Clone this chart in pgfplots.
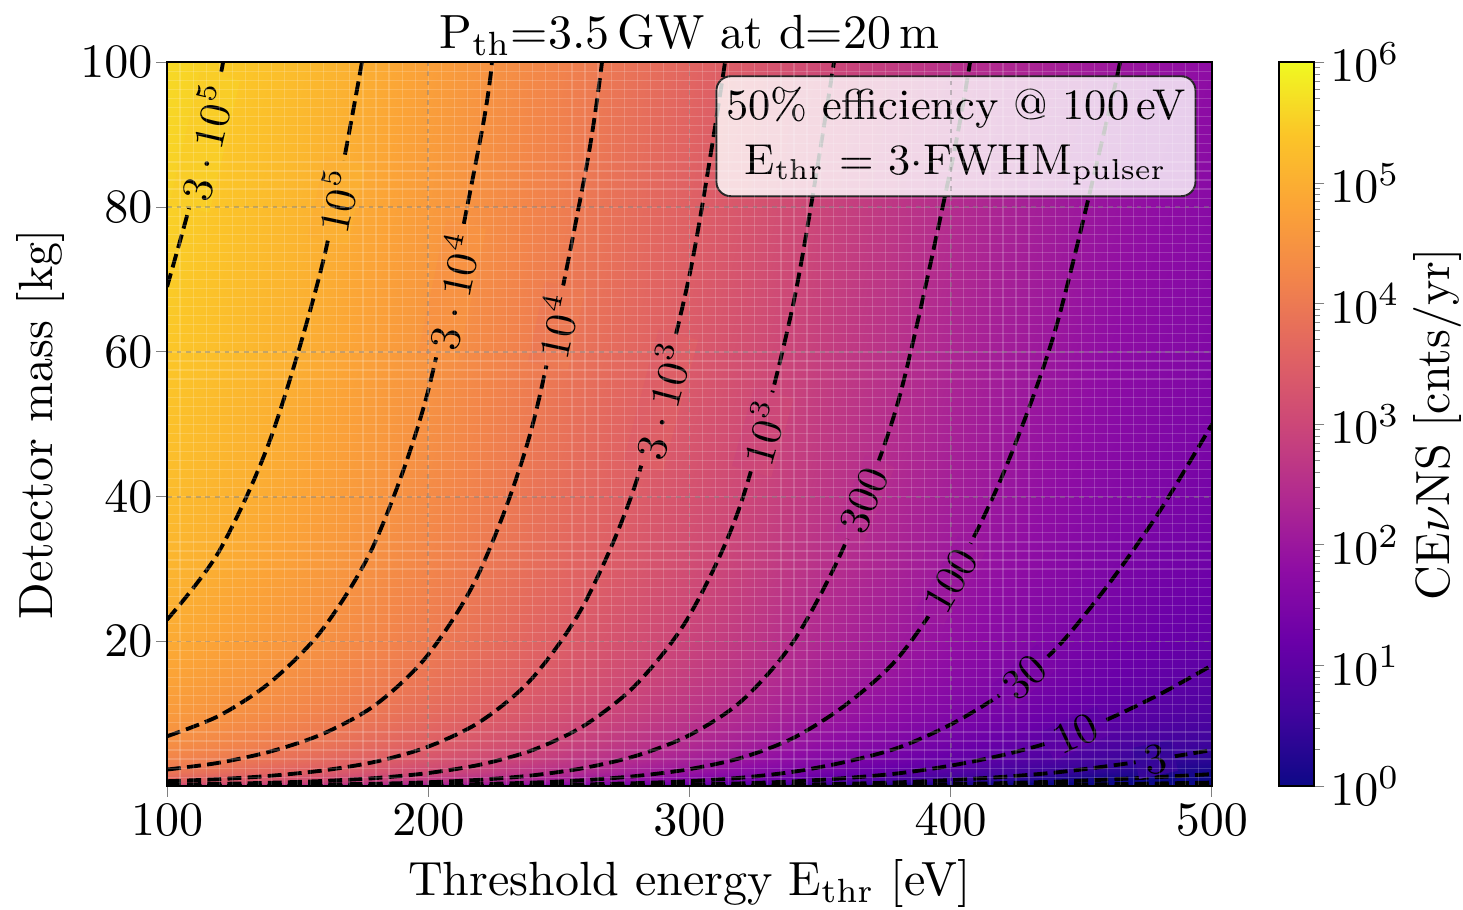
\documentclass[border=0pt]{standalone}
\usepackage{pgfplots}
\pgfplotsset{compat=1.18}
\pgfplotsset{colormap={plasma}{rgb255=(13,8,135) rgb255=(65,4,157) rgb255=(106,0,168) rgb255=(143,13,164) rgb255=(177,42,144) rgb255=(204,71,120) rgb255=(225,100,98) rgb255=(242,132,75) rgb255=(251,163,55) rgb255=(251,197,40) rgb255=(240,249,33)}}
\definecolor{lA}{RGB}{249,205,39}
\definecolor{lB}{RGB}{251,175,50}
\definecolor{lC}{RGB}{247,146,66}
\definecolor{lD}{RGB}{236,121,83}
\definecolor{lE}{RGB}{221,94,102}
\definecolor{lF}{RGB}{204,71,120}
\definecolor{lG}{RGB}{181,46,141}
\definecolor{lH}{RGB}{154,23,157}
\definecolor{lI}{RGB}{123,6,166}
\definecolor{lJ}{RGB}{92,1,164}
\definecolor{lK}{RGB}{55,5,153}
\tikzset{cont/.style={black, line width=0.8pt, dash pattern=on 2.9pt off 1.3pt, smooth, tension=0.5},
  clab/.style={font=\small, inner xsep=1.8pt, inner ysep=0.4pt, text=black}}
\begin{document}
\begin{tikzpicture}
\begin{axis}[
  scale only axis, width=217.7pt, height=150.8pt,
  xmin=100, xmax=500, ymin=0, ymax=100,
  xtick={100,200,...,500}, ytick={20,40,...,100},
  minor xtick={100,105,...,500}, minor ytick={0,1.25,...,100},
  tick pos=left, tick align=outside,
  major tick length=2.2pt, minor tick length=0pt,
  xticklabel style={yshift=2pt},
  yticklabel style={xshift=2.7pt},
  grid=both,
  major grid style={gray, opacity=0.45, line width=0.35pt, dash pattern=on 1pt off 1pt},
  minor grid style={white, opacity=0.18, line width=0.25pt},
  axis on top,
  axis line style={line width=0.4pt},
  xlabel={Threshold energy E$_{\mathrm{thr}}$ [eV]},
  xlabel style={at={(axis description cs:0.5,-0.1506)}, anchor=base},
  ylabel={Detector mass [kg]},
  ylabel style={at={(axis description cs:-0.1215,0.5)}, anchor=center},
  colormap name=plasma,
  point meta min=0, point meta max=6,
  colorbar right,
  colorbar style={
    width=7.3pt,
    at={(parent axis.north east)}, anchor=north west, xshift=5.4pt,
    ytick={0,1,...,6},
    yticklabels={$10^0$,$10^1$,$10^2$,$10^3$,$10^4$,$10^5$,$10^6$},
    minor ytick={0.301,0.477,0.602,0.699,0.778,0.845,0.903,0.954,
      1.301,1.477,1.602,1.699,1.778,1.845,1.903,1.954,
      2.301,2.477,2.602,2.699,2.778,2.845,2.903,2.954,
      3.301,3.477,3.602,3.699,3.778,3.845,3.903,3.954,
      4.301,4.477,4.602,4.699,4.778,4.845,4.903,4.954,
      5.301,5.477,5.602,5.699,5.778,5.845,5.903,5.954},
    ytick pos=right, yticklabel pos=right, tick align=outside,
    major tick length=2.2pt, minor tick length=1.3pt,
    yticklabel style={xshift=-2.3pt},
    ylabel={CE$\nu$NS [cnts/yr]},
    ylabel style={at={(axis description cs:4.54,0.5)}, anchor=center, rotate=0},
    axis line style={line width=0.4pt},
  },
]
\addplot[surf, shader=interp, mesh/cols=21, point meta=explicit] table[row sep=\\, x=E, y=m, meta=z]{
E m z\\
100 0 2.64\\ 120 0 2.49\\ 140 0 2.32\\ 160 0 2.14\\ 180 0 1.95\\ 200 0 1.74\\ 220 0 1.53\\ 240 0 1.30\\ 260 0 1.07\\ 280 0 0.85\\ 300 0 0.63\\ 320 0 0.41\\ 340 0 0.17\\ 360 0 -0.05\\ 380 0 -0.25\\ 400 0 -0.45\\ 420 0 -0.63\\ 440 0 -0.80\\ 460 0 -0.97\\ 480 0 -1.10\\ 500 0 -1.22\\
100 0.5 3.34\\ 120 0.5 3.19\\ 140 0.5 3.01\\ 160 0.5 2.84\\ 180 0.5 2.65\\ 200 0.5 2.44\\ 220 0.5 2.22\\ 240 0.5 2.00\\ 260 0.5 1.77\\ 280 0.5 1.55\\ 300 0.5 1.33\\ 320 0.5 1.10\\ 340 0.5 0.87\\ 360 0.5 0.65\\ 380 0.5 0.45\\ 400 0.5 0.25\\ 420 0.5 0.07\\ 440 0.5 -0.10\\ 460 0.5 -0.27\\ 480 0.5 -0.40\\ 500 0.5 -0.52\\
100 1 3.64\\ 120 1 3.49\\ 140 1 3.32\\ 160 1 3.14\\ 180 1 2.95\\ 200 1 2.74\\ 220 1 2.53\\ 240 1 2.30\\ 260 1 2.07\\ 280 1 1.85\\ 300 1 1.63\\ 320 1 1.41\\ 340 1 1.17\\ 360 1 0.95\\ 380 1 0.75\\ 400 1 0.55\\ 420 1 0.37\\ 440 1 0.20\\ 460 1 0.04\\ 480 1 -0.10\\ 500 1 -0.22\\
100 2 3.94\\ 120 2 3.79\\ 140 2 3.62\\ 160 2 3.44\\ 180 2 3.25\\ 200 2 3.04\\ 220 2 2.83\\ 240 2 2.60\\ 260 2 2.37\\ 280 2 2.15\\ 300 2 1.93\\ 320 2 1.71\\ 340 2 1.47\\ 360 2 1.25\\ 380 2 1.05\\ 400 2 0.85\\ 420 2 0.67\\ 440 2 0.50\\ 460 2 0.34\\ 480 2 0.20\\ 500 2 0.08\\
100 3.5 4.18\\ 120 3.5 4.03\\ 140 3.5 3.86\\ 160 3.5 3.68\\ 180 3.5 3.49\\ 200 3.5 3.28\\ 220 3.5 3.07\\ 240 3.5 2.85\\ 260 3.5 2.62\\ 280 3.5 2.39\\ 300 3.5 2.17\\ 320 3.5 1.95\\ 340 3.5 1.72\\ 360 3.5 1.49\\ 380 3.5 1.29\\ 400 3.5 1.09\\ 420 3.5 0.91\\ 440 3.5 0.75\\ 460 3.5 0.58\\ 480 3.5 0.44\\ 500 3.5 0.32\\
100 6 4.42\\ 120 6 4.27\\ 140 6 4.09\\ 160 6 3.92\\ 180 6 3.72\\ 200 6 3.52\\ 220 6 3.30\\ 240 6 3.08\\ 260 6 2.85\\ 280 6 2.63\\ 300 6 2.41\\ 320 6 2.18\\ 340 6 1.95\\ 360 6 1.73\\ 380 6 1.53\\ 400 6 1.32\\ 420 6 1.14\\ 440 6 0.98\\ 460 6 0.81\\ 480 6 0.68\\ 500 6 0.56\\
100 10 4.64\\ 120 10 4.49\\ 140 10 4.32\\ 160 10 4.14\\ 180 10 3.95\\ 200 10 3.74\\ 220 10 3.53\\ 240 10 3.30\\ 260 10 3.07\\ 280 10 2.85\\ 300 10 2.63\\ 320 10 2.41\\ 340 10 2.17\\ 360 10 1.95\\ 380 10 1.75\\ 400 10 1.55\\ 420 10 1.37\\ 440 10 1.20\\ 460 10 1.04\\ 480 10 0.90\\ 500 10 0.78\\
100 15 4.81\\ 120 15 4.66\\ 140 15 4.49\\ 160 15 4.31\\ 180 15 4.12\\ 200 15 3.92\\ 220 15 3.70\\ 240 15 3.48\\ 260 15 3.25\\ 280 15 3.03\\ 300 15 2.80\\ 320 15 2.58\\ 340 15 2.35\\ 360 15 2.12\\ 380 15 1.93\\ 400 15 1.72\\ 420 15 1.54\\ 440 15 1.38\\ 460 15 1.21\\ 480 15 1.07\\ 500 15 0.95\\
100 20 4.94\\ 120 20 4.79\\ 140 20 4.62\\ 160 20 4.44\\ 180 20 4.25\\ 200 20 4.04\\ 220 20 3.83\\ 240 20 3.60\\ 260 20 3.37\\ 280 20 3.15\\ 300 20 2.93\\ 320 20 2.71\\ 340 20 2.47\\ 360 20 2.25\\ 380 20 2.05\\ 400 20 1.85\\ 420 20 1.67\\ 440 20 1.50\\ 460 20 1.34\\ 480 20 1.20\\ 500 20 1.08\\
100 30 5.12\\ 120 30 4.97\\ 140 30 4.79\\ 160 30 4.61\\ 180 30 4.42\\ 200 30 4.22\\ 220 30 4.00\\ 240 30 3.78\\ 260 30 3.55\\ 280 30 3.33\\ 300 30 3.11\\ 320 30 2.88\\ 340 30 2.65\\ 360 30 2.43\\ 380 30 2.23\\ 400 30 2.02\\ 420 30 1.84\\ 440 30 1.68\\ 460 30 1.51\\ 480 30 1.37\\ 500 30 1.26\\
100 40 5.24\\ 120 40 5.09\\ 140 40 4.92\\ 160 40 4.74\\ 180 40 4.55\\ 200 40 4.34\\ 220 40 4.13\\ 240 40 3.90\\ 260 40 3.68\\ 280 40 3.45\\ 300 40 3.23\\ 320 40 3.01\\ 340 40 2.78\\ 360 40 2.55\\ 380 40 2.35\\ 400 40 2.15\\ 420 40 1.97\\ 440 40 1.80\\ 460 40 1.64\\ 480 40 1.50\\ 500 40 1.38\\
100 60 5.42\\ 120 60 5.27\\ 140 60 5.09\\ 160 60 4.92\\ 180 60 4.72\\ 200 60 4.52\\ 220 60 4.30\\ 240 60 4.08\\ 260 60 3.85\\ 280 60 3.63\\ 300 60 3.41\\ 320 60 3.18\\ 340 60 2.95\\ 360 60 2.73\\ 380 60 2.53\\ 400 60 2.32\\ 420 60 2.14\\ 440 60 1.98\\ 460 60 1.81\\ 480 60 1.68\\ 500 60 1.56\\
100 80 5.54\\ 120 80 5.39\\ 140 80 5.22\\ 160 80 5.04\\ 180 80 4.85\\ 200 80 4.64\\ 220 80 4.43\\ 240 80 4.20\\ 260 80 3.98\\ 280 80 3.75\\ 300 80 3.53\\ 320 80 3.31\\ 340 80 3.08\\ 360 80 2.85\\ 380 80 2.65\\ 400 80 2.45\\ 420 80 2.27\\ 440 80 2.10\\ 460 80 1.94\\ 480 80 1.80\\ 500 80 1.68\\
100 100 5.64\\ 120 100 5.49\\ 140 100 5.32\\ 160 100 5.14\\ 180 100 4.95\\ 200 100 4.74\\ 220 100 4.53\\ 240 100 4.30\\ 260 100 4.07\\ 280 100 3.85\\ 300 100 3.63\\ 320 100 3.41\\ 340 100 3.17\\ 360 100 2.95\\ 380 100 2.75\\ 400 100 2.55\\ 420 100 2.37\\ 440 100 2.20\\ 460 100 2.04\\ 480 100 1.90\\ 500 100 1.78\\
};
% contours
\addplot[cont] coordinates {(100,69.0) (110,82.0) (120,97.5) (121.4,100)};
\addplot[cont] coordinates {(100,23.0) (120,32.5) (140,48.4) (160,72.9) (174.6,100)};
\addplot[cont] coordinates {(100,6.90) (120,9.75) (140,14.5) (160,21.9) (180,34.0) (200,54.7) (220,89.5) (224.4,100)};
\addplot[cont] coordinates {(100,2.30) (120,3.25) (140,4.84) (160,7.29) (180,11.3) (200,18.2) (220,29.9) (240,50.0) (260,84.5) (266.5,100)};
\addplot[cont] coordinates {(100,0.69) (120,0.975) (140,1.45) (160,2.19) (180,3.40) (200,5.47) (220,8.95) (240,15.0) (260,25.4) (280,42.5) (300,70.6) (313.6,100)};
\addplot[cont] coordinates {(100,0.23) (120,0.325) (140,0.484) (160,0.729) (180,1.13) (200,1.82) (220,2.99) (240,5.00) (260,8.45) (280,14.2) (300,23.6) (320,39.4) (340,67.1) (355.3,100)};
\addplot[cont] coordinates {(100,0.069) (140,0.145) (180,0.34) (200,0.547) (220,0.895) (240,1.50) (260,2.54) (280,4.25) (300,7.06) (320,11.8) (340,20.1) (360,33.8) (380,53.3) (400,85.3) (407.4,100)};
\addplot[cont] coordinates {(100,0.023) (140,0.048) (180,0.113) (200,0.182) (220,0.299) (240,0.50) (260,0.845) (280,1.42) (300,2.36) (320,3.94) (340,6.71) (360,11.3) (380,17.8) (400,28.4) (420,43.1) (440,63.0) (460,92.3) (464.8,100)};
\addplot[cont] coordinates {(100,0.007) (160,0.022) (200,0.055) (220,0.09) (240,0.15) (260,0.254) (280,0.425) (300,0.706) (320,1.18) (340,2.01) (360,3.38) (380,5.33) (400,8.53) (420,12.9) (440,18.9) (460,27.7) (480,38.0) (500,50.0)};
\addplot[cont] coordinates {(100,0.0023) (200,0.018) (240,0.05) (260,0.0845) (280,0.142) (300,0.236) (320,0.394) (340,0.671) (360,1.13) (380,1.78) (400,2.84) (420,4.31) (440,6.30) (460,9.23) (480,12.7) (500,16.7)};
\addplot[cont] coordinates {(100,0.0007) (240,0.015) (280,0.0425) (300,0.0706) (320,0.118) (340,0.201) (360,0.338) (380,0.533) (400,0.853) (420,1.29) (440,1.89) (460,2.77) (480,3.80) (500,5.00)};
\addplot[cont] coordinates {(100,0.0002) (300,0.0236) (340,0.067) (380,0.178) (400,0.284) (420,0.431) (440,0.630) (460,0.923) (480,1.27) (500,1.67)};
\addplot[cont] coordinates {(100,0) (380,0.053) (420,0.129) (460,0.277) (500,0.50)};
\addplot[cont] coordinates {(100,0) (420,0.043) (460,0.092) (500,0.167)};
% contour labels
\node[clab, fill=lA, rotate=77] at (axis cs:114.5,89) {$3\cdot10^{5}$};
\node[clab, fill=lB, rotate=78] at (axis cs:164.8,80.9) {$10^{5}$};
\node[clab, fill=lC, rotate=78] at (axis cs:209.1,68.4) {$3\cdot10^{4}$};
\node[clab, fill=lD, rotate=78] at (axis cs:249.1,63.6) {$10^{4}$};
\node[clab, fill=lE, rotate=75] at (axis cs:289.0,53.3) {$3\cdot10^{3}$};
\node[clab, fill=lF, rotate=74] at (axis cs:328.1,48.9) {$10^{3}$};
\node[clab, fill=lG, rotate=68] at (axis cs:366.9,39.5) {$300$};
\node[clab, fill=lH, rotate=60] at (axis cs:400,28.4) {$100$};
\node[clab, fill=lI, rotate=42] at (axis cs:428.2,15.1) {$30$};
\node[clab, fill=lJ, rotate=25] at (axis cs:447.7,7.3) {$10$};
\node[clab, fill=lK, rotate=12] at (axis cs:478.3,3.7) {$3$};
% annotation box
\node[draw=black!85, line width=0.4pt, rounded corners=3pt, fill=white, fill opacity=0.8, text opacity=1, align=center, inner sep=2pt, minimum width=98.7pt, minimum height=25pt, font=\small] at (axis cs:402,89.8)
  {50\% efficiency @ 100\,eV\\[0.5pt] E$_{\mathrm{thr}}$ = 3$\cdot$FWHM$_{\mathrm{pulser}}$};
\end{axis}
\node[anchor=base] at ([yshift=2.9pt]current axis.north) {P$_{\mathrm{th}}$=3.5\,GW at d=20\,m};
\pgfresetboundingbox
\path[use as bounding box] (current axis.south west) ++(-34.8pt,-25.6pt) rectangle ++(304.8pt,189.4pt);
\end{tikzpicture}
\end{document}
